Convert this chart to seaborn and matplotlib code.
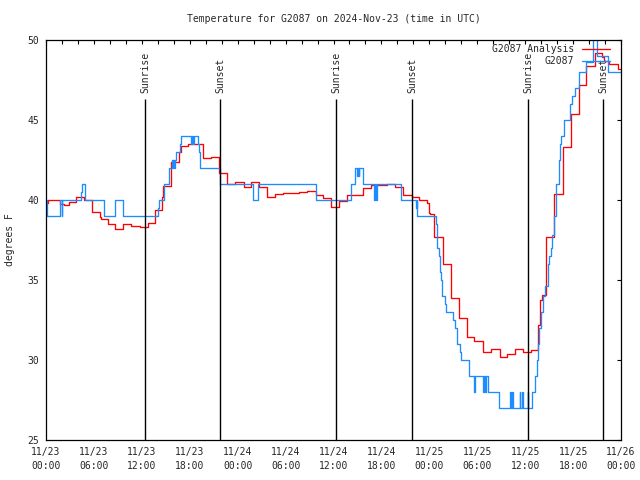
import matplotlib
matplotlib.use("Agg")
import matplotlib.pyplot as plt
import seaborn as sns
from matplotlib.ticker import MultipleLocator

# hours since 2024-11-23 00:00 UTC; each value holds until the next entry
anl_hours = [0.0, 0.25, 1.75, 2.25, 2.9, 3.7, 4.76, 5.7, 5.8, 6.76, 6.9, 7.76, 8.68,
             9.68, 10.7, 11.77, 12.77, 13.7, 14.5, 14.7, 15.6, 16.7, 16.9, 17.8, 19.7,
             20.6, 21.7, 22.7, 23.7, 24.8, 25.7, 26.7, 27.7, 28.7, 29.7, 31.7, 32.7,
             33.8, 34.7, 35.7, 36.7, 37.7, 39.7, 40.7, 42.7, 43.7, 44.7, 45.8, 46.75,
             47.7, 47.9, 48.1, 48.6, 49.7, 50.7, 51.7, 52.7, 53.6, 54.7, 55.7, 56.8,
             57.7, 58.7, 59.7, 60.7, 61.65, 61.8, 62.1, 62.6, 63.6, 64.7, 65.7, 66.7,
             67.6, 68.75, 69.6, 69.9, 70.5, 71.6, 72.0]
anl_temp = [39.8, 40.0, 39.75, 39.7, 39.85, 40.17, 40.0, 39.6, 39.23, 38.96, 38.8, 38.48, 38.17,
            38.48, 38.4, 38.3, 38.55, 39.4, 40.17, 40.9, 42.4, 43.0, 43.4, 43.5, 42.6,
            42.67, 41.67, 40.98, 41.15, 40.83, 41.1, 40.8, 40.2, 40.38, 40.46, 40.52, 40.58,
            40.3, 40.1, 39.54, 39.95, 40.3, 40.77, 40.95, 40.97, 40.8, 40.3, 40.17, 40.0,
            39.8, 39.2, 39.1, 37.7, 36.0, 33.86, 32.6, 31.46, 31.2, 30.5, 30.67, 30.17,
            30.35, 30.67, 30.48, 30.6, 32.2, 33.75, 34.06, 37.7, 40.4, 43.33, 45.35, 47.19,
            48.4, 49.17, 48.96, 48.7, 48.5, 48.17, 48.17]

obs_hours = [0.0, 0.15, 1.71, 1.98, 2.05, 4.42, 4.55, 4.84, 4.9, 7.22, 8.68, 9.68, 14.07,
             14.2, 14.78, 15.45, 15.74, 15.85, 15.95, 16.05, 16.15, 16.28, 16.78, 16.95,
             18.2, 18.3, 18.45, 18.55, 19.0, 19.1, 19.33, 21.79, 25.96, 26.6, 33.8, 38.16,
             38.7, 38.99, 39.05, 39.15, 39.24, 39.74, 41.08, 41.15, 41.35, 41.41, 44.42,
             46.34, 46.4, 46.5, 48.84, 49.0, 49.2, 49.34, 49.5, 49.6, 49.97, 50.1, 51.0,
             51.2, 51.5, 51.9, 52.0, 53.0, 53.6, 53.7, 54.7, 54.8, 55.0, 55.1, 55.4,
             56.77, 58.1, 58.2, 58.35, 58.45, 59.3, 59.4, 59.6, 59.7, 60.3, 60.4, 60.83,
             61.24, 61.45, 61.6, 61.78, 61.95, 62.2, 62.5, 62.8, 63.0, 63.2, 63.4, 63.6,
             63.8, 64.2, 64.3, 64.5, 64.8, 65.6, 65.9, 66.25, 66.7, 67.6, 68.5, 69.05,
             70.4, 72.0]
obs_temp = [40, 39, 40, 39, 40, 40.5, 41, 40.5, 40, 39, 40, 39, 39.5,
            40, 41, 42, 42.5, 42, 42.5, 42, 42.5, 43, 43.5, 44,
            43.5, 44, 43.5, 44, 43.5, 43, 42, 41, 40, 41, 40, 41,
            42, 41.5, 42, 41.5, 42, 41, 40, 41, 40, 41, 40,
            39.5, 40, 39, 38.5, 37, 36.5, 35.5, 35, 34, 33.5, 33, 32.5,
            32, 31, 30.5, 30, 29, 28, 29, 28, 29, 28, 29, 28,
            27, 28, 27, 28, 27, 28, 27, 28, 27, 28, 27, 28,
            29, 30, 31, 32, 33, 34, 34.6, 36, 36.5, 37, 37.8, 39,
            41, 42.5, 43.5, 44, 45, 46, 46.5, 47, 48, 48.6, 51, 49,
            48, 48]

sun_hours = [12.44, 21.8, 36.32, 45.88, 60.41, 69.8]
sun_labels = ["Sunrise", "Sunset", "Sunrise", "Sunset", "Sunrise", "Sunset"]

tick_hours = list(range(0, 73, 6))
tick_labels = ["11/23\n00:00", "11/23\n06:00", "11/23\n12:00", "11/23\n18:00",
               "11/24\n00:00", "11/24\n06:00", "11/24\n12:00", "11/24\n18:00",
               "11/25\n00:00", "11/25\n06:00", "11/25\n12:00", "11/25\n18:00",
               "11/26\n00:00"]

sns.set_theme(style="white")
plt.rcParams['font.family'] = ['DejaVu Sans Mono']
plt.rcParams['font.size'] = 7

fig = plt.figure(figsize=(6.4, 4.8), dpi=100)
ax = fig.add_axes([46 / 640, 40 / 480, 575 / 640, 400 / 480])

sns.lineplot(x=anl_hours, y=anl_temp, drawstyle="steps-post", color="#ff0000",
             lw=0.95, label="G2087 Analysis", estimator=None, sort=False, ax=ax)
sns.lineplot(x=obs_hours, y=obs_temp, drawstyle="steps-post", color="#1e8cff",
             lw=0.95, label="G2087", estimator=None, sort=False, ax=ax)

for h, lab in zip(sun_hours, sun_labels):
    ax.vlines(h, 25, 46.3, color="black", lw=1.0)
    ax.text(h, 46.7, lab, rotation=90, ha="center", va="bottom", fontsize=7)

ax.set_xlim(0, 72)
ax.set_ylim(25, 50)
ax.set_xticks(tick_hours)
ax.set_xticklabels(tick_labels, linespacing=1.45)
ax.xaxis.set_minor_locator(MultipleLocator(2))
ax.set_yticks([25, 30, 35, 40, 45, 50])
ax.tick_params(which="both", direction="in", top=True, right=True, length=3,
               width=0.8, color="black", labelsize=7)
ax.tick_params(axis="x", pad=5)
ax.tick_params(axis="y", pad=5)
for s in ax.spines.values():
    s.set_color("black")
    s.set_linewidth(0.9)

ax.set_title("Temperature for G2087 on 2024-Nov-23 (time in UTC)", fontsize=7, pad=13)
ax.set_xlabel("")
ax.set_ylabel("degrees F", fontsize=7)
ax.yaxis.set_label_coords(-0.054, 0.5)

ax.legend(loc="upper right", bbox_to_anchor=(0.981, 0.99), frameon=False,
          markerfirst=False, handlelength=2.9, handletextpad=0.8,
          labelspacing=0.25, borderpad=0, borderaxespad=0, fontsize=7)

fig.savefig("out.png", dpi=100)
